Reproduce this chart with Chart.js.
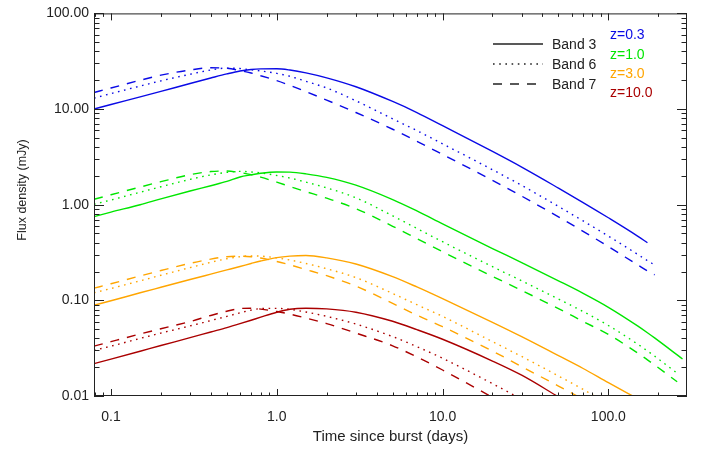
<!DOCTYPE html>
<html>
<head>
<meta charset="utf-8">
<title>Flux density vs time since burst</title>
<script src="https://cdn.jsdelivr.net/npm/chart.js@4.4.0/dist/chart.umd.min.js"></script>
<style>
    html, body { margin: 0; padding: 0; background: #fff; }
    #wrap { width: 706px; height: 450px; }
</style>
</head>
<body>
<div id="wrap"><canvas id="fluxChart" width="706" height="450"></canvas></div>
<script>
// ─── Data ───────────────────────────────────────────────────────────────────
const times = [0.079, 0.1, 0.15, 0.2, 0.3, 0.4, 0.5, 0.6, 0.7, 0.8, 1, 1.2, 1.5, 2, 3, 5, 7, 10, 20, 30, 50, 70, 100, 150, 172, 190, 260, 280];

// z = 0.3
const z03Band3 = [10.0, 11.15, 13.4, 15.3, 18.5, 21.1, 23.3, 25.0, 25.9, 26.3, 26.4, 25.6, 23.9, 21.2, 17.1, 12.0, 9.2, 6.7, 3.6, 2.47, 1.49, 1.06, 0.73, 0.47, 0.40, null, null, null];
const z03Band6 = [13.0, 14.5, 17.4, 19.7, 23.1, 25.6, 26.8, 26.5, 25.7, 25.0, 23.6, 22.0, 19.5, 16.6, 12.2, 7.9, 5.95, 4.33, 2.32, 1.59, 0.96, 0.68, 0.47, 0.303, 0.26, 0.235, null, null];
const z03Band7 = [14.9, 16.6, 20.0, 22.6, 25.6, 27.0, 26.7, 25.3, 23.8, 22.3, 19.8, 17.7, 15.2, 12.4, 9.2, 6.15, 4.6, 3.35, 1.8, 1.23, 0.745, 0.53, 0.365, 0.235, 0.203, 0.185, null, null];

// z = 1.0
const z10Band3 = [0.75, 0.836, 1.0, 1.15, 1.39, 1.58, 1.75, 1.95, 2.05, 2.13, 2.2, 2.19, 2.1, 1.93, 1.60, 1.13, 0.86, 0.63, 0.348, 0.248, 0.160, 0.119, 0.0846, 0.0541, 0.0459, 0.0405, 0.0269, 0.0244];
const z10Band6 = [1.01, 1.12, 1.35, 1.54, 1.84, 2.05, 2.18, 2.23, 2.2, 2.15, 2.02, 1.9, 1.72, 1.5, 1.18, 0.765, 0.565, 0.41, 0.225, 0.16, 0.103, 0.0768, 0.0546, 0.0349, 0.0296, 0.0261, 0.0173, null];
const z10Band7 = [1.14, 1.27, 1.53, 1.74, 2.06, 2.22, 2.25, 2.17, 2.06, 1.94, 1.72, 1.55, 1.37, 1.17, 0.91, 0.595, 0.442, 0.322, 0.178, 0.127, 0.082, 0.0605, 0.044, 0.0282, 0.0239, 0.0211, 0.0141, null];

// z = 3.0
const z30Band3 = [0.089, 0.099, 0.12, 0.137, 0.165, 0.188, 0.208, 0.226, 0.243, 0.258, 0.28, 0.29, 0.294, 0.278, 0.24, 0.177, 0.138, 0.104, 0.0589, 0.0417, 0.0264, 0.0195, 0.0138, 0.0094, null, null, null, null];
const z30Band6 = [0.12, 0.133, 0.16, 0.183, 0.22, 0.25, 0.272, 0.286, 0.292, 0.29, 0.278, 0.264, 0.243, 0.214, 0.173, 0.118, 0.09, 0.068, 0.037, 0.0259, 0.0162, 0.0118, 0.0081, null, null, null, null, null];
const z30Band7 = [0.134, 0.149, 0.18, 0.205, 0.244, 0.27, 0.286, 0.29, 0.286, 0.277, 0.255, 0.235, 0.21, 0.181, 0.141, 0.093, 0.07, 0.053, 0.0295, 0.0203, 0.0127, 0.0093, null, null, null, null, null, null];

// z = 10.0
const z100Band3 = [0.0218, 0.0243, 0.0294, 0.0337, 0.0407, 0.0467, 0.0519, 0.057, 0.0619, 0.0667, 0.0751, 0.0808, 0.0828, 0.0815, 0.0752, 0.0604, 0.0494, 0.0392, 0.0232, 0.0165, 0.0098, null, null, null, null, null, null, null];
const z100Band6 = [0.030, 0.0332, 0.040, 0.0455, 0.054, 0.0615, 0.068, 0.074, 0.079, 0.082, 0.0825, 0.0805, 0.0755, 0.068, 0.0565, 0.0418, 0.0328, 0.0248, 0.01347, 0.00924, null, null, null, null, null, null, null, null];
const z100Band7 = [0.0332, 0.037, 0.0445, 0.0505, 0.060, 0.0695, 0.077, 0.082, 0.0828, 0.081, 0.0765, 0.0718, 0.0652, 0.0572, 0.0455, 0.0335, 0.0256, 0.0187, 0.00969, null, null, null, null, null, null, null, null, null];

const bandNames = ['Band 3', 'Band 6', 'Band 7'];
const zLabels = ['z=0.3', 'z=1.0', 'z=3.0', 'z=10.0'];
const xTickValues = [0.1, 1, 10, 100];
const xTickLabels = ['0.1', '1.0', '10.0', '100.0'];
const yTickValues = [0.01, 0.1, 1, 10, 100];
const yTickLabels = ['0.01', '0.10', '1.00', '10.00', '100.00'];

// ─── Styles ─────────────────────────────────────────────────────────────────
const zColors = ['#0a0ae6', '#00e600', '#ffa500', '#aa0000'];
const bandDash = [[], [1.6, 4.6], [9, 8]];
const textColor = '#222';
const fontFamily = "'Liberation Sans', Arial, Helvetica, sans-serif";

const seriesByZ = [
    [z03Band3, z03Band6, z03Band7],
    [z10Band3, z10Band6, z10Band7],
    [z30Band3, z30Band6, z30Band7],
    [z100Band3, z100Band6, z100Band7]
];

const toPoints = vals => times
    .map((t, i) => ({ x: t, y: vals[i] }))
    .filter(p => p.y !== null);

const datasets = [];
seriesByZ.forEach((bands, zi) => {
    bands.forEach((vals, bi) => {
        datasets.push({
            label: zLabels[zi] + ' ' + bandNames[bi],
            data: toPoints(vals),
            borderColor: zColors[zi],
            borderWidth: 1.4,
            borderDash: bandDash[bi],
            pointRadius: 0,
            fill: false,
            cubicInterpolationMode: 'monotone'
        });
    });
});

// ─── Frame, inward ticks, legend, y title ───────────────────────────────────
const decorPlugin = {
    id: 'decor',
    afterDraw(chart) {
        const { ctx, chartArea: a, scales: { x, y } } = chart;
        ctx.save();
        ctx.strokeStyle = textColor;
        ctx.lineWidth = 1;
        ctx.strokeRect(a.left + 0.5, a.top + 0.5, a.right - a.left - 1, a.bottom - a.top - 1);

        const tick = (x1, y1, x2, y2) => {
            ctx.beginPath();
            ctx.moveTo(x1, y1);
            ctx.lineTo(x2, y2);
            ctx.stroke();
        };

        // x ticks (bottom and top)
        for (let d = -2; d <= 2; d++) {
            for (let m = 1; m <= 9; m++) {
                const v = m * Math.pow(10, d);
                if (v < x.min || v > x.max) continue;
                const px = Math.round(x.getPixelForValue(v)) + 0.5;
                const len = m === 1 ? 7 : 3.5;
                tick(px, a.bottom, px, a.bottom - len);
                tick(px, a.top, px, a.top + len);
            }
        }
        // y ticks (left and right)
        for (let d = -2; d <= 2; d++) {
            for (let m = 1; m <= 9; m++) {
                const v = m * Math.pow(10, d);
                if (v < y.min || v > y.max) continue;
                const py = Math.round(y.getPixelForValue(v)) + 0.5;
                const len = m === 1 ? 10 : 5.5;
                tick(a.left, py, a.left + len, py);
                tick(a.right, py, a.right - len, py);
            }
        }

        // band legend
        ctx.font = '14px ' + fontFamily;
        ctx.textBaseline = 'middle';
        ctx.textAlign = 'left';
        ctx.lineWidth = 1.4;
        bandNames.forEach((name, i) => {
            const ly = 44 + i * 20;
            ctx.strokeStyle = textColor;
            ctx.setLineDash(bandDash[i]);
            tick(493, ly, 543, ly);
            ctx.setLineDash([]);
            ctx.fillStyle = textColor;
            ctx.fillText(name, 552, ly + 1);
        });
        // redshift legend
        zLabels.forEach((lab, i) => {
            ctx.fillStyle = zColors[i];
            ctx.fillText(lab, 610, 35.5 + i * 19.2);
        });

        // y axis title
        ctx.font = '12.5px ' + fontFamily;
        ctx.fillStyle = textColor;
        ctx.translate(23, 190);
        ctx.rotate(-Math.PI / 2);
        ctx.textAlign = 'center';
        ctx.fillText('Flux density (mJy)', 0, 0);
        ctx.restore();
    }
};

Chart.defaults.font.family = fontFamily;
Chart.defaults.color = textColor;

new Chart(document.getElementById('fluxChart').getContext('2d'), {
    type: 'line',
    data: { datasets },
    options: {
        responsive: false,
        animation: false,
        layout: { padding: { left: 0, right: 19, top: 10, bottom: 0 } },
        plugins: { legend: { display: false }, tooltip: { enabled: false } },
        scales: {
            x: {
                type: 'logarithmic',
                min: 0.079,
                max: 298,
                afterFit: s => { s.height = 54; },
                afterBuildTicks: s => { s.ticks = xTickValues.map(v => ({ value: v })); },
                ticks: {
                    autoSkip: false,
                    maxRotation: 0,
                    padding: 13,
                    font: { size: 14 },
                    color: textColor,
                    callback: (v, i) => xTickLabels[i]
                },
                grid: { display: false, drawTicks: false },
                border: { display: false },
                title: {
                    display: true,
                    text: 'Time since burst (days)',
                    font: { size: 15 },
                    color: textColor,
                    padding: { top: 0, bottom: 4 }
                }
            },
            y: {
                type: 'logarithmic',
                min: 0.01,
                max: 100,
                afterFit: s => { s.width = 94; },
                afterBuildTicks: s => { s.ticks = yTickValues.map(v => ({ value: v })); },
                ticks: {
                    autoSkip: false,
                    padding: 5,
                    font: { size: 14 },
                    color: textColor,
                    callback: (v, i) => yTickLabels[i]
                },
                grid: { display: false, drawTicks: false },
                border: { display: false }
            }
        }
    },
    plugins: [decorPlugin]
});
</script>
</body>
</html>
